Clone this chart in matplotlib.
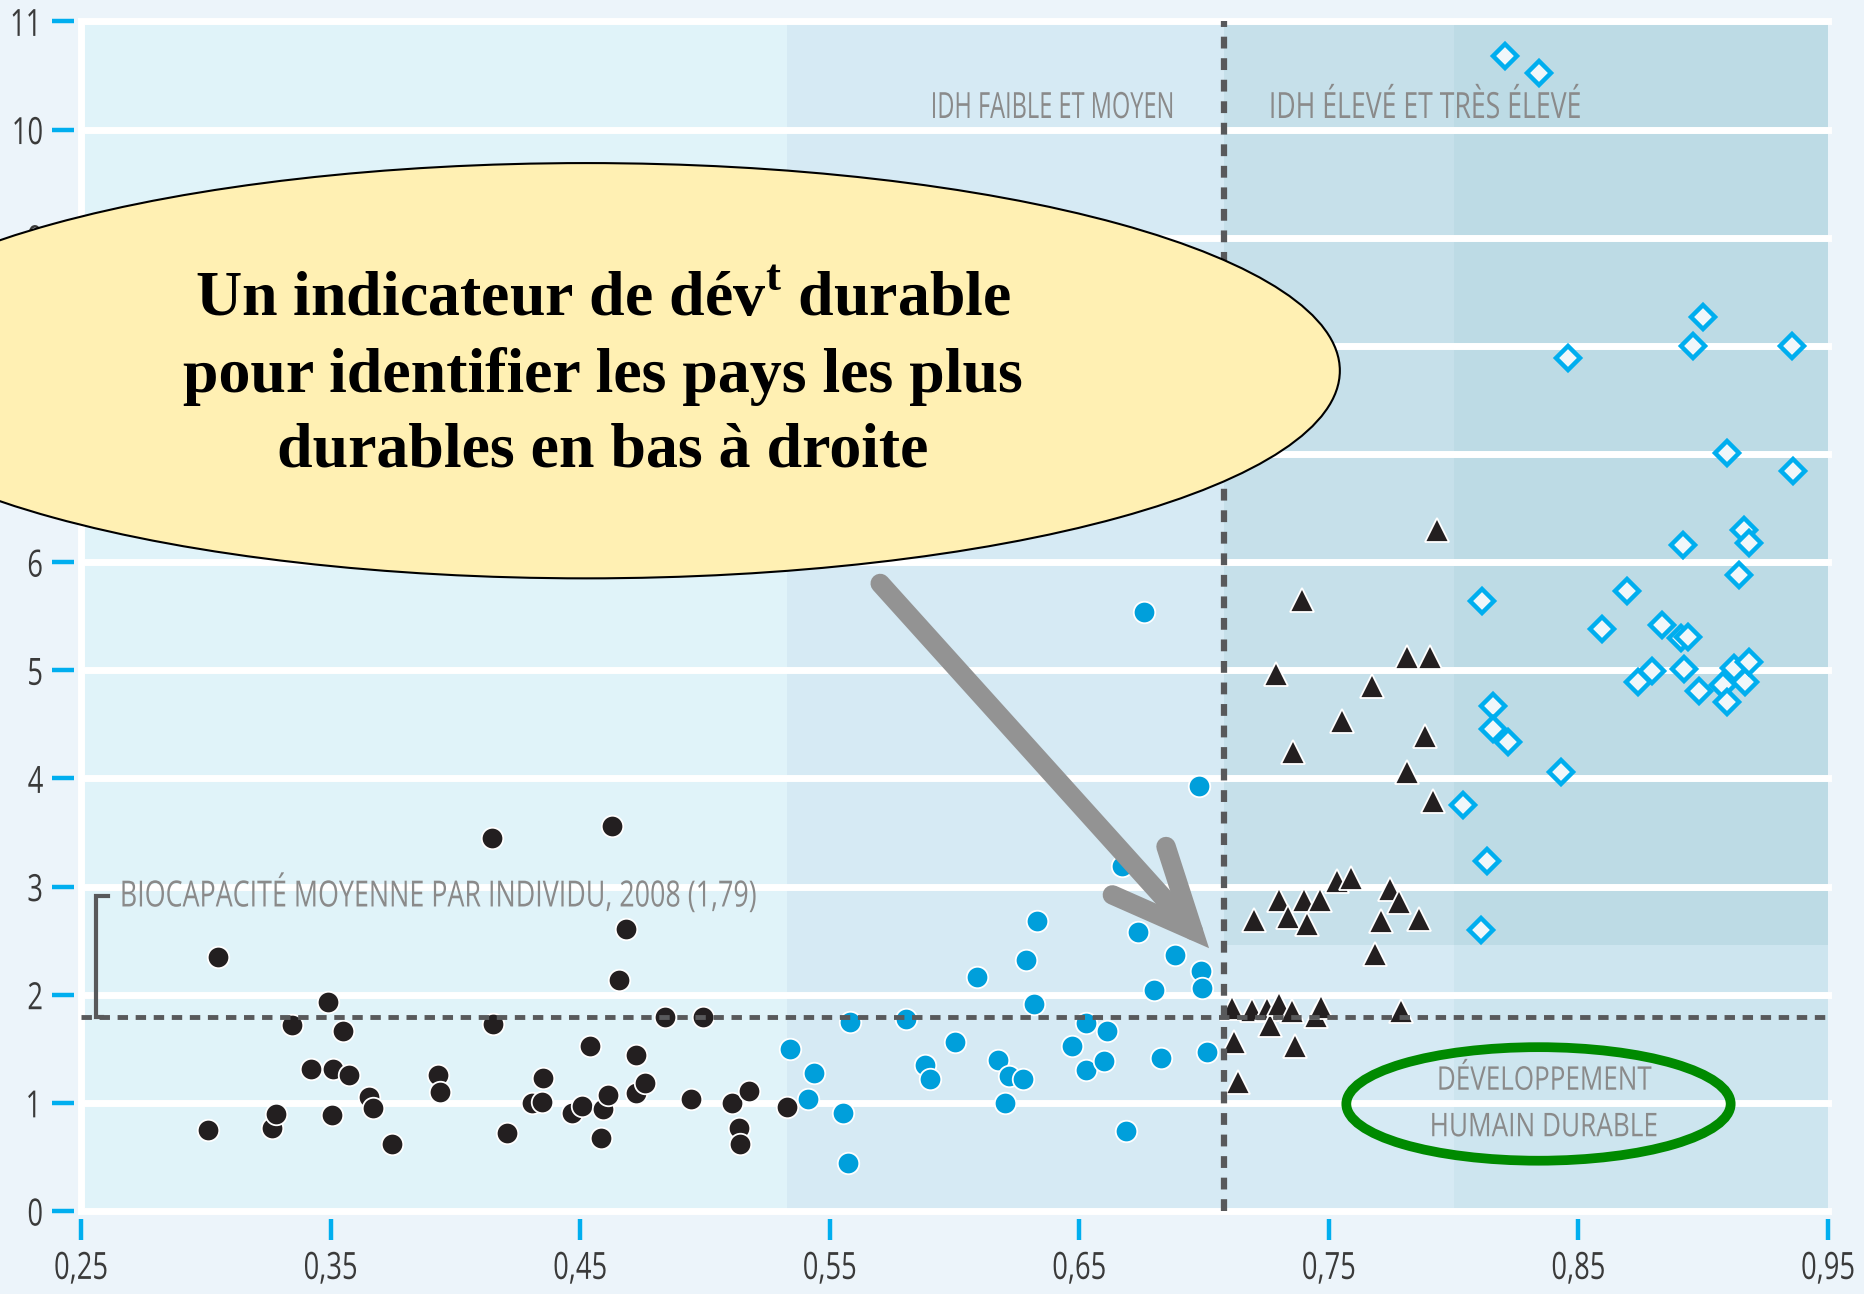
import matplotlib
matplotlib.use('Agg')
import matplotlib.pyplot as plt
import matplotlib.patheffects as pe
from matplotlib.transforms import Affine2D
from matplotlib.patches import Ellipse, FancyArrowPatch, ArrowStyle

# Values: x = IDH, y = empreinte écologique (hag / hab)
low_x = [0.3008, 0.3047, 0.3267, 0.3280, 0.3345, 0.3420, 0.3488, 0.3504, 0.3510, 0.3551,
         0.3573, 0.3653, 0.3669, 0.3745, 0.3929, 0.3939, 0.4145, 0.4151, 0.4206, 0.4308,
         0.4347, 0.4353, 0.4469, 0.4506, 0.4541, 0.4582, 0.4590, 0.4612, 0.4629, 0.4657,
         0.4682, 0.4724, 0.4724, 0.4759, 0.4841, 0.4943, 0.4992, 0.5108, 0.5137, 0.5141,
         0.5176, 0.5329]
low_y = [0.75, 2.35, 0.77, 0.90, 1.72, 1.31, 1.93, 0.885, 1.31, 1.66,
         1.255, 1.05, 0.95, 0.62, 1.255, 1.10, 3.45, 1.73, 0.724, 1.00,
         1.01, 1.23, 0.91, 0.975, 1.53, 0.676, 0.94, 1.07, 3.56, 2.14,
         2.61, 1.44, 1.094, 1.18, 1.79, 1.04, 1.79, 1.00, 0.766, 0.62,
         1.11, 0.96]

mid_x = [0.5339, 0.5413, 0.5436, 0.5552, 0.5574, 0.5583, 0.5807, 0.5883, 0.5900, 0.6004,
         0.6090, 0.6176, 0.6202, 0.6219, 0.6274, 0.6285, 0.6317, 0.6331, 0.6470, 0.6525,
         0.6528, 0.6600, 0.6613, 0.6670, 0.6688, 0.6734, 0.6760, 0.6801, 0.6826, 0.6885,
         0.6979, 0.6987, 0.6991, 0.7011]
mid_y = [1.50, 1.04, 1.28, 0.91, 0.44, 1.75, 1.78, 1.35, 1.22, 1.56,
         2.16, 1.40, 1.00, 1.25, 1.22, 2.32, 1.91, 2.68, 1.525, 1.74,
         1.30, 1.39, 1.66, 3.19, 0.74, 2.58, 5.54, 2.04, 1.416, 2.37,
         3.93, 2.22, 2.06, 1.47]

high_x = [0.7112, 0.7119, 0.7135, 0.7194, 0.7201, 0.7253, 0.7265, 0.7290, 0.7301, 0.7301,
          0.7335, 0.7353, 0.7357, 0.7365, 0.7393, 0.7401, 0.7411, 0.7450, 0.7465, 0.7469,
          0.7534, 0.7551, 0.7587, 0.7672, 0.7685, 0.7707, 0.7743, 0.7781, 0.7789, 0.7815,
          0.7815, 0.7861, 0.7887, 0.7905, 0.7918, 0.7934]
high_y = [1.88, 1.56, 1.19, 1.86, 2.69, 1.87, 1.72, 4.97, 1.91, 2.88,
          2.72, 1.85, 4.24, 1.53, 5.65, 2.88, 2.65, 1.80, 2.88, 1.89,
          3.05, 4.53, 3.08, 4.85, 2.38, 2.68, 2.98, 2.86, 1.85, 5.12,
          4.06, 2.70, 4.39, 5.12, 3.79, 6.30]

vhigh_x = [0.8038, 0.8108, 0.8112, 0.8134, 0.8158, 0.8158, 0.8204, 0.8216, 0.8343, 0.8429,
           0.8457, 0.8594, 0.8695, 0.8738, 0.8795, 0.8836, 0.8910, 0.8918, 0.8922, 0.8939,
           0.8960, 0.8982, 0.9000, 0.9080, 0.9095, 0.9097, 0.9122, 0.9143, 0.9162, 0.9166,
           0.9184, 0.9184, 0.9357, 0.9359]
vhigh_y = [3.75, 2.60, 5.64, 3.24, 4.67, 4.46, 10.68, 4.34, 10.52, 4.06,
           7.89, 5.38, 5.73, 4.89, 4.99, 5.42, 5.30, 6.16, 5.01, 5.31,
           8.00, 4.81, 8.27, 4.86, 4.71, 7.01, 5.02, 5.88, 6.30, 4.89,
           6.18, 5.08, 8.00, 6.84]

biocap = 1.79
idh_split = 0.708

x_ticks = [0.25, 0.35, 0.45, 0.55, 0.65, 0.75, 0.85, 0.95]
x_labels = ['0,25', '0,35', '0,45', '0,55', '0,65', '0,75', '0,85', '0,95']
y_ticks = list(range(0, 12))
y_labels = [str(v) for v in y_ticks]


class Squeeze(pe.AbstractPathEffect):
    # horizontal squeeze of text glyphs, to fake a condensed face
    def __init__(self, sx, anchor):
        super().__init__()
        self.sx = sx
        self.anchor = anchor

    def draw_path(self, renderer, gc, tpath, affine, rgbFace=None):
        ext = tpath.get_extents()
        piv = ext.x0 + self.anchor * (ext.x1 - ext.x0)
        t = Affine2D().translate(-piv, 0).scale(self.sx, 1).translate(piv, 0) + affine
        renderer.draw_path(gc, tpath, t, rgbFace)


plt.rcParams['font.family'] = ['Open Sans', 'DejaVu Sans']
plt.rcParams['lines.scale_dashes'] = False
plt.rcParams['mathtext.fontset'] = 'custom'
plt.rcParams['mathtext.rm'] = 'Liberation Serif'
plt.rcParams['mathtext.bf'] = 'Liberation Serif:bold'

fig = plt.figure(figsize=(18.65, 12.94), dpi=100, facecolor='#ecf4fa')
ax = fig.add_axes([0.04343, 0.06414, 0.93673, 0.91932])
ax.set_facecolor('none')
ax.set_xlim(0.25, 0.95)
ax.set_ylim(0, 11)

# background bands
ax.axvspan(0.25, 0.533, color='#e0f3f9', lw=0, zorder=0)
ax.axvspan(0.533, 0.80, color='#d6eaf4', lw=0, zorder=0)
ax.axvspan(0.80, 0.95, color='#cde5ef', lw=0, zorder=0)
ax.fill_between([idh_split, 0.80], 2.46, 11, color='#c6e0ea', lw=0, zorder=0)
ax.fill_between([0.80, 0.95], 2.46, 11, color='#bddbe5', lw=0, zorder=0)

# white grid
for yv in y_ticks:
    ax.axhline(yv, color='white', lw=5, zorder=1, clip_on=False)
ax.axvline(0.25, color='white', lw=5, zorder=1, clip_on=False)

# points
ax.plot(low_x, low_y, 'o', ms=15.5, mfc='#231f20', mec='white', mew=1.3, zorder=3)
ax.plot(mid_x, mid_y, 'o', ms=15.5, mfc='#009fdb', mec='white', mew=1.3, zorder=3)
ax.plot(high_x, high_y, '^', ms=17.5, mfc='#231f20', mec='white', mew=1.3, zorder=3)
ax.plot(vhigh_x, vhigh_y, 'D', ms=12.5, mfc='#f0f7fa', mec='#00aeef', mew=3.2, zorder=3)

# reference lines
ax.plot([0.25, 0.95], [biocap, biocap], color='#58595b', lw=3.5, ls=(0, (7.5, 5.5)), zorder=4)
ax.plot([idh_split, idh_split], [0, 11], color='#58595b', lw=4.5, ls=(0, (8.5, 7)), zorder=4)
ax.plot([0.2608, 0.256, 0.256, 0.2585], [2.91, 2.91, biocap, biocap], color='#58595b',
        lw=3, zorder=4, solid_joinstyle='miter')

grey = '#8a8a8a'
t_bio = ax.text(0.2652, 2.92, 'BIOCAPACITÉ MOYENNE PAR INDIVIDU, 2008 (1,79)', color=grey,
                fontsize=26, ha='left', va='center', zorder=4)
t_low = ax.text(0.6888, 10.19, 'IDH FAIBLE ET MOYEN', color=grey, fontsize=26,
                ha='right', va='center', zorder=4)
t_high = ax.text(0.7256, 10.19, 'IDH ÉLEVÉ ET TRÈS ÉLEVÉ', color=grey, fontsize=26,
                 ha='left', va='center', zorder=4)
t_dev = ax.text(0.836, 1.20, 'DÉVELOPPEMENT', color=grey, fontsize=23.5, ha='center', va='center', zorder=4)
t_hum = ax.text(0.836, 0.77, 'HUMAIN DURABLE', color=grey, fontsize=23.5, ha='center', va='center', zorder=4)
ax.add_patch(Ellipse((0.834, 0.99), 0.154, 1.05, fill=False, ec='#008a00', lw=7, zorder=5))

# big grey arrow
arrow = FancyArrowPatch((0.568, 5.86), (0.702, 2.43),
                        arrowstyle=ArrowStyle('->', head_length=58, head_width=26),
                        mutation_scale=1, lw=14, color='#939393', capstyle='round',
                        joinstyle='miter', shrinkA=6, shrinkB=0, zorder=6)
ax.add_patch(arrow)

# callout bubble
ax.add_patch(Ellipse((0.4524, 7.77), 0.604, 3.84, fc='#fff0b3', ec='black', lw=1.5,
                     zorder=10, clip_on=False))
bubble_lines = [r'Un indicateur de dév$^{\mathbf{t}}$ durable',
                'pour identifier les pays les plus',
                'durables en bas à droite']
for line, yv in zip(bubble_lines, [8.42, 7.72, 7.02]):
    ax.text(0.459, yv, line, fontsize=46, fontweight='bold', family=['Liberation Serif'],
            ha='center', va='center', color='black', zorder=11)

# axes / ticks
for s in ax.spines.values():
    s.set_visible(False)
ax.spines['left'].set_position(('outward', 5))
ax.spines['bottom'].set_position(('outward', 6))
ax.set_xticks(x_ticks, x_labels)
ax.set_yticks(y_ticks, y_labels)
ax.tick_params(axis='y', direction='out', length=16, width=3.2, color='#00aeef', pad=6,
               labelsize=27, labelcolor='#3a3a3a')
ax.tick_params(axis='x', direction='out', length=15, width=3.2, color='#00aeef', pad=7,
               labelsize=27, labelcolor='#3a3a3a')

# squeeze the sans texts to the narrow widths of the original
fig.canvas.draw()
rend = fig.canvas.get_renderer()
for txt, width_px, anchor in [(t_bio, 638, 0.0), (t_low, 244, 1.0), (t_high, 313, 0.0),
                              (t_dev, 214, 0.5), (t_hum, 228, 0.5)]:
    txt.set_path_effects([Squeeze(width_px / txt.get_window_extent(rend).width, anchor)])
tick_sq = 54 / ax.get_xticklabels()[6].get_window_extent(rend).width
for lbl in ax.get_xticklabels():
    lbl.set_path_effects([Squeeze(tick_sq, 0.5)])
for lbl in ax.get_yticklabels():
    lbl.set_path_effects([Squeeze(tick_sq, 1.0)])

fig.savefig('out.png', dpi=100, facecolor=fig.get_facecolor())
